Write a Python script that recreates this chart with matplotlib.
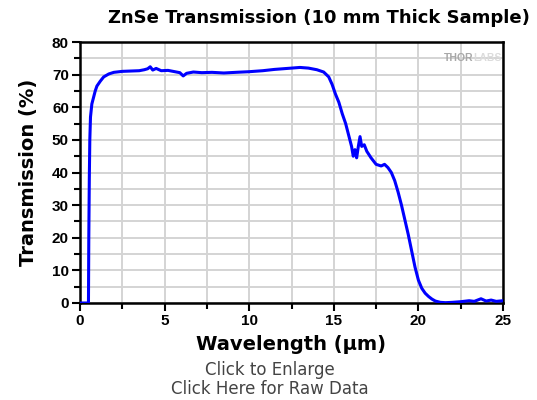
import matplotlib
matplotlib.use("Agg")
import matplotlib.pyplot as plt
from matplotlib.ticker import MultipleLocator

# 数据
wavelength = [0.0, 0.5, 0.52, 0.55, 0.58, 0.62, 0.7, 0.8, 0.9, 1.0, 1.2, 1.4, 1.7, 2.0,
              2.5, 3.0, 3.5, 3.8, 4.0, 4.15, 4.3, 4.5, 4.8, 5.2, 5.6, 5.9, 6.1, 6.3,
              6.7, 7.2, 7.8, 8.5, 9.2, 10.0, 10.8, 11.5, 12.0, 12.5, 13.0, 13.5, 14.0,
              14.4, 14.7, 14.9, 15.1, 15.3, 15.5, 15.7, 15.9, 16.05, 16.15, 16.25,
              16.35, 16.45, 16.55, 16.65, 16.8, 16.95, 17.2, 17.5, 17.8, 18.0, 18.2,
              18.4, 18.6, 18.8, 19.0, 19.2, 19.4, 19.6, 19.8, 20.0, 20.2, 20.4, 20.6,
              20.8, 21.0, 21.3, 21.6, 22.0, 22.5, 23.0, 23.3, 23.7, 24.0, 24.3, 24.6, 25.0]
transmission = [0, 0, 20, 38, 50, 57, 61, 63, 65, 66.5, 68, 69.3, 70.2, 70.7,
                71, 71.1, 71.2, 71.5, 71.8, 72.4, 71.4, 71.9, 71.2, 71.3, 70.9, 70.6, 69.6, 70.4,
                70.8, 70.6, 70.7, 70.5, 70.7, 70.9, 71.2, 71.6, 71.8, 72.0, 72.2, 72.0, 71.5,
                70.8, 69.3, 67, 64, 61.5, 58, 55, 51, 48, 45, 47,
                44.5, 48, 51, 48, 48.5, 46.5, 44.5, 42.5, 42, 42.5, 41.5,
                40, 37.5, 34, 30, 25.5, 21, 16, 11, 7, 4.5, 3, 2,
                1.2, 0.6, 0.2, 0.1, 0.2, 0.4, 0.7, 0.5, 1.3, 0.6, 0.9, 0.5, 0.7]

plt.rcParams['font.family'] = ['Liberation Sans', 'DejaVu Sans']

fig = plt.figure(figsize=(5.37, 4.0), dpi=100)
ax = fig.add_axes([80 / 537, 97 / 400, 423 / 537, 261 / 400])

ax.plot(wavelength, transmission, color='#0000ff', lw=2.2, zorder=3)

ax.set_xlim(0, 25)
ax.set_ylim(0, 80)
ax.xaxis.set_major_locator(MultipleLocator(5))
ax.xaxis.set_minor_locator(MultipleLocator(2.5))
ax.yaxis.set_major_locator(MultipleLocator(10))
ax.yaxis.set_minor_locator(MultipleLocator(5))
ax.grid(which='both', color='#d4d4d4', lw=1.4, zorder=0)
ax.set_axisbelow(True)

for s in ax.spines.values():
    s.set_linewidth(1.8)
ax.tick_params(which='major', direction='out', length=6, width=1.5,
               labelsize=11, pad=2)
ax.tick_params(which='minor', direction='out', length=4, width=1.5)
for lbl in ax.get_xticklabels() + ax.get_yticklabels():
    lbl.set_fontweight('bold')

# 坐标轴标题 (DejaVu 比较宽, 更接近原图)
ax.set_xlabel('Wavelength (µm)', fontsize=14, fontweight='bold',
              family='DejaVu Sans', labelpad=5)
ax.set_ylabel('Transmission (%)', fontsize=14, fontweight='bold',
              family='DejaVu Sans', labelpad=10)

fig.text(319 / 537, 1 - 18 / 400, 'ZnSe Transmission (10 mm Thick Sample)',
         ha='center', va='center', fontsize=13, fontweight='bold',
         family='DejaVu Sans')

# 水印
ax.text(0.929, 0.939, 'THOR', transform=ax.transAxes, ha='right', va='center',
        fontsize=7.5, fontweight='bold', color='#a8a8a8')
ax.text(0.929, 0.939, 'LABS', transform=ax.transAxes, ha='left', va='center',
        fontsize=7.5, fontweight='bold', color='#dcdcdc')

fig.text(270 / 537, 1 - 370 / 400, 'Click to Enlarge', ha='center', va='center',
         fontsize=12, color='#444444', family='DejaVu Sans')
fig.text(270 / 537, 1 - 389 / 400, 'Click Here for Raw Data', ha='center', va='center',
         fontsize=12, color='#444444', family='DejaVu Sans')

fig.savefig('out.png', dpi=100)
